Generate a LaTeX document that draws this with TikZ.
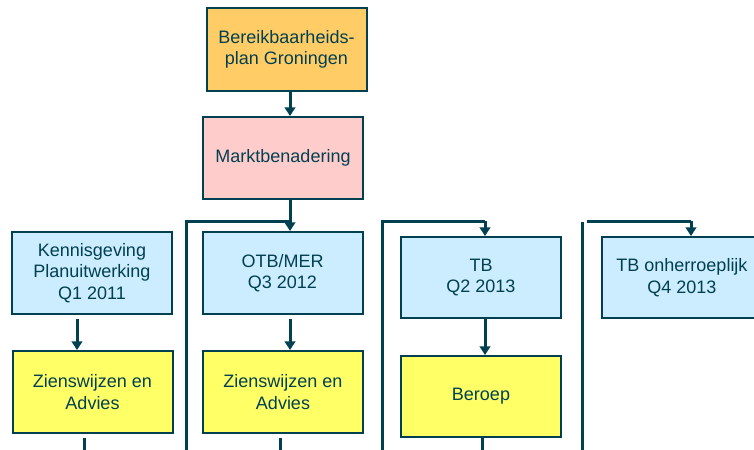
\documentclass[tikz,border=0pt]{standalone}
\usepackage{fontspec}
\setmainfont{Liberation Sans}
\usetikzlibrary{arrows.meta}
\definecolor{ink}{RGB}{0,64,80}
\definecolor{fOrange}{RGB}{255,204,102}
\definecolor{fPink}{RGB}{255,204,204}
\definecolor{fBlue}{RGB}{204,236,255}
\definecolor{fYellow}{RGB}{255,255,102}
\begin{document}
\begin{tikzpicture}[x=0.75pt,y=-0.75pt,
  box/.style={draw=ink,line width=1.5pt,inner sep=0pt,align=center,text=ink,
    font=\fontsize{13.5}{16.2}\selectfont,minimum width=120pt,minimum height=61.5pt},
  conn/.style={draw=ink,line width=2.25pt},
  arr/.style={conn,-{Triangle[width=8pt,length=6.5pt]}}]
\useasboundingbox (0,0) rectangle (754,450);
\clip (0,0) rectangle (754,450);
% boxes
\node[box,fill=fOrange,minimum height=62.25pt] (b1) at (286.5,49.5) {Bereikbaarheids-\\plan Groningen};
\node[box,fill=fPink] (b2) at (283,158) {Marktbenadering};
\node[box,fill=fBlue] (k1) at (92,273) {Kennisgeving\\Planuitwerking\\Q1 2011};
\node[box,fill=fYellow] (z1) at (92.5,392) {Zienswijzen en\\Advies};
\node[box,fill=fBlue] (o1) at (282.5,273) {OTB/MER\\Q3 2012};
\node[box,fill=fYellow] (z2) at (283,392) {Zienswijzen en\\Advies};
\node[box,fill=fBlue,minimum height=60.75pt] (t1) at (481,277.5) {TB\\Q2 2013};
\node[box,fill=fYellow,minimum height=60.75pt] (be) at (481,396.5) {Beroep};
\node[box,fill=fBlue,minimum height=60.75pt] (t2) at (682,277.5) {TB onherroeplijk\\Q4 2013};
% column coordinates
\coordinate (c1) at (77,0);
\coordinate (j1) at (290,221);
\coordinate (l1) at (186,221);
\coordinate (l1b) at (186,452);
\coordinate (j2) at (485,221);
\coordinate (l2) at (382,221);
\coordinate (l2b) at (382,452);
\coordinate (j3) at (691,221);
\coordinate (l3s) at (587,221);
\coordinate (l3) at (582,222);
\coordinate (l3b) at (582,452);
\coordinate (s1) at (84,452);
\coordinate (s2) at (280,452);
\coordinate (s3) at (482,452);
% connectors
\draw[arr] (b1.south -| j1) -- (b2.north -| j1);
\draw[arr] (b2.south -| j1) -- (o1.north -| j1);
\draw[conn] (l1b) -- (l1) -- (j1);
\draw[arr,shorten <=3pt] (k1.south -| c1) -- (z1.north -| c1);
\draw[arr,shorten <=3pt] (o1.south -| j1) -- (z2.north -| j1);
\draw[conn] (l2b) -- (l2) -- (j2);
\draw[arr] (j2) -- (t1.north -| j2);
\draw[arr] (t1.south -| j2) -- (be.north -| j2);
\draw[conn] (l3) -- (l3b);
\draw[conn] (l3s) -- (j3);
\draw[arr] (j3) -- (t2.north -| j3);
\draw[conn,shorten <=3pt] (z1.south -| s1) -- (s1);
\draw[conn,shorten <=3pt] (z2.south -| s2) -- (s2);
\draw[conn] (be.south -| s3) -- (s3);
\end{tikzpicture}
\end{document}
